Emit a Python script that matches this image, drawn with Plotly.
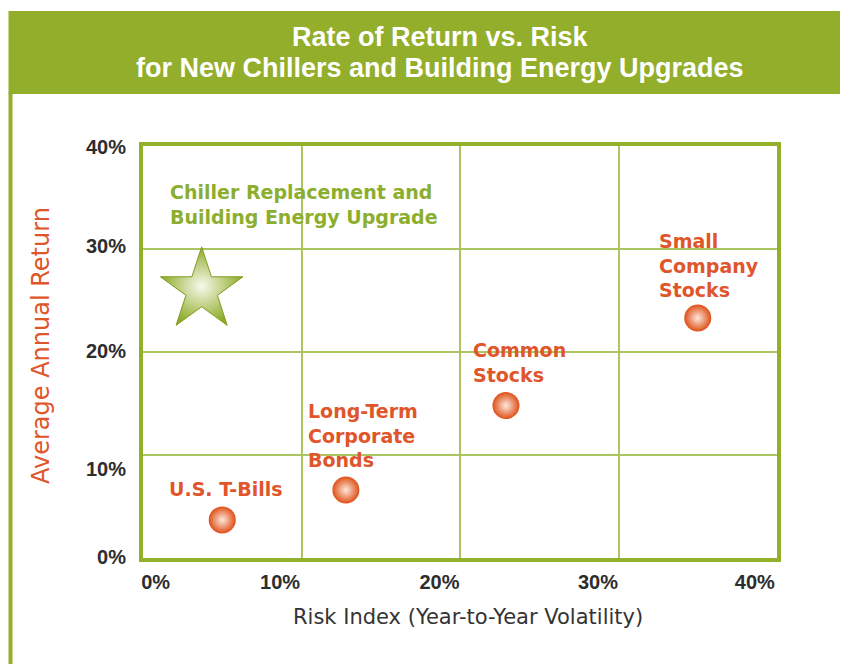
import plotly.graph_objects as go

# ---- data ----
categories = ["U.S. T-Bills", "Long-Term<br>Corporate<br>Bonds", "Common<br>Stocks", "Small<br>Company<br>Stocks"]
risk = [5.0, 12.8, 22.9, 35.0]
annual_return = [3.7, 6.6, 14.8, 23.3]

chiller_label = "Chiller Replacement and<br>Building Energy Upgrade"
chiller_risk = [3.7]
chiller_return = [26.0]

x_tick_text = ["0%", "10%", "20%", "30%", "40%"]
x_tick_pos = [0.8, 8.65, 18.7, 28.7, 38.6]
y_tick_text = ["0%", "10%", "20%", "30%", "40%"]
y_tick_pos = [0.1, 8.65, 20.1, 30.3, 39.9]

title_lines = ["Rate of Return vs. Risk", "for New Chillers and Building Energy Upgrades"]
x_title = "Risk Index (Year-to-Year Volatility)"
y_title = "Average Annual Return"

# ---- styles ----
OFF = 8  # page body margin
W, H = 848 - OFF, 664 - OFF
PLOT_L, PLOT_R, PLOT_T, PLOT_B = 143, 777, 146, 558  # window pixels
L, R, T, B = PLOT_L - OFF, OFF + W - PLOT_R, PLOT_T - OFF, OFF + H - PLOT_B
GREEN = "#93ae2b"
FRAME = "#93b02c"
GRID = "#abc661"
ORANGE = "#e0552a"
DARK = "#2d2d2d"

# label offsets (pixels) relative to each point: (xshift, yshift, xanchor)
label_offsets = [(4, 31, "center"), (-40, 55, "left"), (-35, 43, "left"), (-41, 53, "left")]


def px_x(px):
    return (px - PLOT_L) / (PLOT_R - PLOT_L)


def px_y(py):
    return (PLOT_B - py) / (PLOT_B - PLOT_T)


fig = go.Figure()

fig.add_trace(go.Scatter(
    x=chiller_risk, y=chiller_return, mode="markers",
    marker=dict(symbol="star", size=62, color="#8dab27",
                gradient=dict(type="radial", color="#f6f9ec"),
                line=dict(width=1, color="#7f9c1f")),
    cliponaxis=False, hoverinfo="skip", showlegend=False))

fig.add_trace(go.Scatter(
    x=risk, y=annual_return, mode="markers",
    marker=dict(symbol="circle", size=27, color="#df4f17",
                gradient=dict(type="radial", color="#fde9de"),
                line=dict(width=0)),
    cliponaxis=False, hoverinfo="skip", showlegend=False))

# dummy trace for overlay axes carrying the tick labels
fig.add_trace(go.Scatter(x=[], y=[], xaxis="x2", yaxis="y2", showlegend=False, hoverinfo="skip"))

annotations = []
for xv, yv, txt, (dx, dy, anc) in zip(risk, annual_return, categories, label_offsets):
    annotations.append(dict(
        x=xv, y=yv, xref="x", yref="y", text=txt, showarrow=False,
        xanchor=anc, yanchor="middle", align="left", xshift=dx, yshift=dy,
        font=dict(family="DejaVu Sans", size=19, color=ORANGE, weight="bold")))

annotations.append(dict(
    x=chiller_risk[0], y=chiller_return[0], xref="x", yref="y", text=chiller_label,
    showarrow=False, xanchor="left", yanchor="middle", align="left",
    xshift=-34, yshift=86,
    font=dict(family="DejaVu Sans", size=19, color="#8cae2e", weight="bold")))

# title lines
for line, py in zip(title_lines, [37, 68]):
    annotations.append(dict(
        x=px_x(440), y=px_y(py), xref="paper", yref="paper", text=f"<b>{line}</b>",
        showarrow=False, xanchor="center", yanchor="middle",
        font=dict(family="Liberation Sans", size=27, color="white")))

annotations.append(dict(
    x=px_x(468), y=px_y(617), xref="paper", yref="paper", text=x_title,
    showarrow=False, xanchor="center", yanchor="middle",
    font=dict(family="DejaVu Sans", size=21, color="#333333")))

annotations.append(dict(
    x=px_x(41), y=px_y(346), xref="paper", yref="paper", text=y_title,
    showarrow=False, xanchor="center", yanchor="middle", textangle=-90,
    font=dict(family="DejaVu Sans", size=24, color=ORANGE)))

shapes = [
    dict(type="rect", xref="paper", yref="paper",
         x0=px_x(8.5), x1=px_x(860), y0=px_y(94), y1=px_y(11),
         fillcolor=GREEN, line=dict(width=0), layer="below"),
    dict(type="line", xref="paper", yref="paper",
         x0=px_x(10.5), x1=px_x(10.5), y0=px_y(93), y1=px_y(680),
         line=dict(color=GREEN, width=4), layer="below"),
]

axis_common = dict(range=[0, 40], dtick=10, tick0=0, showgrid=True, gridcolor=GRID, gridwidth=2,
                   zeroline=False, showline=True, linewidth=4, linecolor=FRAME, mirror=True,
                   showticklabels=False, ticks="", fixedrange=True)

label_axis = dict(range=[0, 40], showgrid=False, zeroline=False, showline=False,
                  ticks="outside", tickcolor="rgba(0,0,0,0)", fixedrange=True,
                  tickfont=dict(family="Liberation Sans", size=20, color=DARK, weight="bold"))

fig.update_layout(
    width=W, height=H,
    margin=dict(l=L, r=R, t=T, b=B),
    paper_bgcolor="white", plot_bgcolor="white",
    xaxis=dict(**axis_common),
    yaxis=dict(**axis_common),
    xaxis2=dict(overlaying="x", anchor="y2", side="bottom", ticklen=6,
                tickvals=x_tick_pos, ticktext=x_tick_text, **label_axis),
    yaxis2=dict(overlaying="y", anchor="x2", side="left", ticklen=12,
                tickvals=y_tick_pos, ticktext=y_tick_text, **label_axis),
    annotations=annotations,
    shapes=shapes,
    showlegend=False,
)

fig.write_html("out.html")
